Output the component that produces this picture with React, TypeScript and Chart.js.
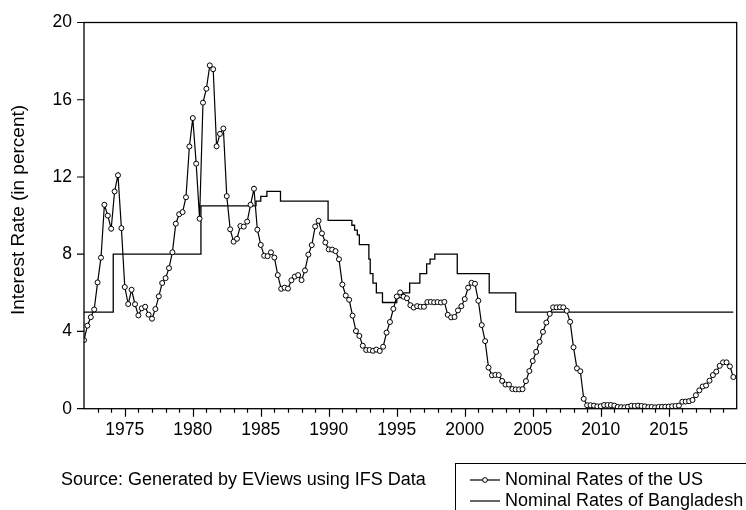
import React, { useEffect, useRef } from "react";
import { Chart, registerables } from "chart.js";

Chart.register(...registerables);

// ---- data -------------------------------------------------------------
const START_YEAR = 1972; // first quarter: 1972Q1
const X_MIN = 1972;
const X_MAX = 2020;
const X_TICK_YEARS = [1975, 1980, 1985, 1990, 1995, 2000, 2005, 2010, 2015];
const Y_TICKS = [0, 4, 8, 12, 16, 20];

// Nominal rates of the US, quarterly 1972Q1 .. 2019Q4
const US_RATES = [
  3.55, 4.3, 4.74, 5.14,
  6.54, 7.82, 10.56, 10.0,
  9.32, 11.25, 12.09, 9.35,
  6.3, 5.42, 6.16, 5.41,
  4.83, 5.2, 5.28, 4.87,
  4.66, 5.16, 5.82, 6.51,
  6.76, 7.28, 8.1, 9.58,
  10.07, 10.18, 10.95, 13.58,
  15.05, 12.69, 9.84, 15.85,
  16.57, 17.78, 17.58, 13.59,
  14.23, 14.51, 11.01, 9.29,
  8.65, 8.8, 9.46, 9.43,
  9.69, 10.56, 11.39, 9.27,
  8.48, 7.92, 7.9, 8.1,
  7.83, 6.92, 6.21, 6.27,
  6.22, 6.65, 6.84, 6.92,
  6.66, 7.16, 7.98, 8.47,
  9.44, 9.73, 9.08, 8.61,
  8.25, 8.24, 8.16, 7.74,
  6.43, 5.86, 5.64, 4.82,
  4.02, 3.77, 3.26, 3.04,
  3.04, 3.0, 3.06, 2.99,
  3.21, 3.94, 4.49, 5.17,
  5.81, 6.02, 5.8, 5.72,
  5.36, 5.24, 5.31, 5.28,
  5.28, 5.52, 5.53, 5.51,
  5.52, 5.5, 5.53, 4.86,
  4.73, 4.75, 5.09, 5.31,
  5.68, 6.27, 6.52, 6.47,
  5.59, 4.33, 3.5, 2.13,
  1.73, 1.75, 1.74, 1.44,
  1.25, 1.25, 1.02, 1.0,
  1.0, 1.01, 1.43, 1.95,
  2.47, 2.94, 3.46, 3.98,
  4.46, 4.91, 5.25, 5.25,
  5.26, 5.25, 5.07, 4.5,
  3.18, 2.09, 1.94, 0.51,
  0.18, 0.18, 0.16, 0.12,
  0.13, 0.19, 0.19, 0.19,
  0.16, 0.09, 0.08, 0.07,
  0.1, 0.15, 0.14, 0.16,
  0.14, 0.12, 0.08, 0.09,
  0.07, 0.09, 0.09, 0.1,
  0.11, 0.13, 0.14, 0.16,
  0.36, 0.37, 0.39, 0.45,
  0.7, 0.95, 1.15, 1.2,
  1.45, 1.74, 1.92, 2.22,
  2.4, 2.4, 2.19, 1.64,
];

// Nominal rates of Bangladesh: date of each change and the new rate
const BD_DATES = [
  1972.0, 1974.15, 1980.6, 1984.65, 1985.0, 1985.45, 1986.45, 1989.95,
  1991.7, 1991.9, 1992.1, 1992.25, 1992.95, 1993.05, 1993.25, 1993.5,
  1993.95, 1995.0, 1995.5, 1995.95, 1996.7, 1997.2, 1997.45, 1997.8,
  1999.45, 2001.8, 2003.75, 2019.75,
];
const BD_RATES = [
  5.0, 8.0, 10.5, 10.75, 11.0, 11.25, 10.75, 9.75,
  9.5, 9.25, 9.0, 8.5, 7.75, 7.0, 6.5, 6.0,
  5.5, 5.75, 6.0, 6.5, 7.0, 7.5, 7.75, 8.0,
  7.0, 6.0, 5.0, 5.0,
];

const SERIES_LABELS = ["Nominal Rates of the US", "Nominal Rates of Bangladesh"];
const SOURCE_TEXT = "Source: Generated by EViews using IFS Data";
const Y_TITLE = "Interest Rate (in percent)";

const FONT = '"Liberation Sans", Arial, sans-serif';

// ---- plugin: frame, tick marks, axis title, source note, legend --------
const decorPlugin = {
  id: "decor",
  afterDraw(chart: any) {
    const { ctx, chartArea: a, scales } = chart;
    const x = scales.x;
    const y = scales.y;
    ctx.save();
    ctx.strokeStyle = "#000";
    ctx.lineWidth = 1.3;
    ctx.strokeRect(a.left, a.top, a.right - a.left, a.bottom - a.top);

    ctx.lineWidth = 1.2;
    ctx.beginPath();
    for (let yr = X_MIN + 1; yr < X_MAX; yr++) {
      const px = Math.round(x.getPixelForValue(yr)) + 0.5;
      const len = yr % 5 === 0 ? 8 : 4;
      ctx.moveTo(px, a.bottom);
      ctx.lineTo(px, a.bottom + len);
    }
    for (const v of Y_TICKS) {
      const py = y.getPixelForValue(v);
      ctx.moveTo(a.left - 7, py);
      ctx.lineTo(a.left, py);
    }
    ctx.stroke();

    // y axis title
    ctx.fillStyle = "#000";
    ctx.font = `19px ${FONT}`;
    ctx.textAlign = "center";
    ctx.textBaseline = "middle";
    ctx.save();
    ctx.translate(19, 210);
    ctx.rotate(-Math.PI / 2);
    ctx.fillText(Y_TITLE, 0, 0);
    ctx.restore();

    // source note
    ctx.font = `18px ${FONT}`;
    ctx.textAlign = "left";
    ctx.fillText(SOURCE_TEXT, 61, 480);

    // legend box
    ctx.lineWidth = 1;
    ctx.strokeRect(455.5, 463.5, 400, 100);
    const rows = [480, 501];
    rows.forEach((ry, i) => {
      ctx.beginPath();
      ctx.lineWidth = 1.2;
      ctx.moveTo(470, ry);
      ctx.lineTo(500, ry);
      ctx.stroke();
      if (i === 0) {
        ctx.beginPath();
        ctx.lineWidth = 1;
        ctx.fillStyle = "#fff";
        ctx.arc(485, ry, 2.4, 0, Math.PI * 2);
        ctx.fill();
        ctx.stroke();
        ctx.fillStyle = "#000";
      }
      ctx.fillText(SERIES_LABELS[i], 505, ry);
    });
    ctx.restore();
  },
};

export default function App() {
  const ref = useRef<HTMLCanvasElement>(null);

  useEffect(() => {
    const usData = US_RATES.map((v, i) => ({ x: START_YEAR + i / 4, y: v }));
    const bdData = BD_RATES.map((v, i) => ({ x: BD_DATES[i], y: v }));

    const chart = new Chart(ref.current as HTMLCanvasElement, {
      type: "line",
      data: {
        datasets: [
          {
            label: SERIES_LABELS[0],
            data: usData,
            borderColor: "#000",
            borderWidth: 1.2,
            pointRadius: 2.5,
            pointBorderWidth: 1,
            pointBorderColor: "#000",
            pointBackgroundColor: "#fff",
            tension: 0,
          },
          {
            label: SERIES_LABELS[1],
            data: bdData,
            borderColor: "#000",
            borderWidth: 1.3,
            pointRadius: 0,
            stepped: "before",
          },
        ],
      },
      options: {
        animation: false,
        responsive: false,
        devicePixelRatio: 1,
        layout: { padding: { left: 0, right: 9.3, top: 20.7, bottom: 0 } },
        plugins: {
          legend: { display: false },
          tooltip: { enabled: false },
          title: { display: false },
        },
        scales: {
          x: {
            type: "linear",
            min: X_MIN,
            max: X_MAX,
            afterBuildTicks: (s: any) => {
              s.ticks = X_TICK_YEARS.map((v) => ({ value: v }));
            },
            afterFit: (s: any) => {
              s.height = 101.3;
            },
            ticks: {
              callback: (v: any) => String(v),
              font: { family: FONT, size: 17.5 },
              color: "#000",
              padding: 11,
              maxRotation: 0,
              autoSkip: false,
            },
            grid: { display: false, drawTicks: false },
            border: { display: false },
          },
          y: {
            type: "linear",
            min: 0,
            max: 20,
            afterBuildTicks: (s: any) => {
              s.ticks = Y_TICKS.map((v) => ({ value: v }));
            },
            afterFit: (s: any) => {
              s.width = 84;
            },
            ticks: {
              callback: (v: any) => String(v),
              font: { family: FONT, size: 17.5 },
              color: "#000",
              padding: 12,
            },
            grid: { display: false, drawTicks: false },
            border: { display: false },
          },
        },
      },
      plugins: [decorPlugin],
    } as any);

    return () => chart.destroy();
  }, []);

  return (
    <div
      style={{
        position: "fixed",
        left: 0,
        top: 0,
        width: 746,
        height: 510,
        background: "#fff",
        overflow: "hidden",
      }}
    >
      <canvas ref={ref} width={746} height={510} style={{ width: 746, height: 510, display: "block" }} />
    </div>
  );
}
